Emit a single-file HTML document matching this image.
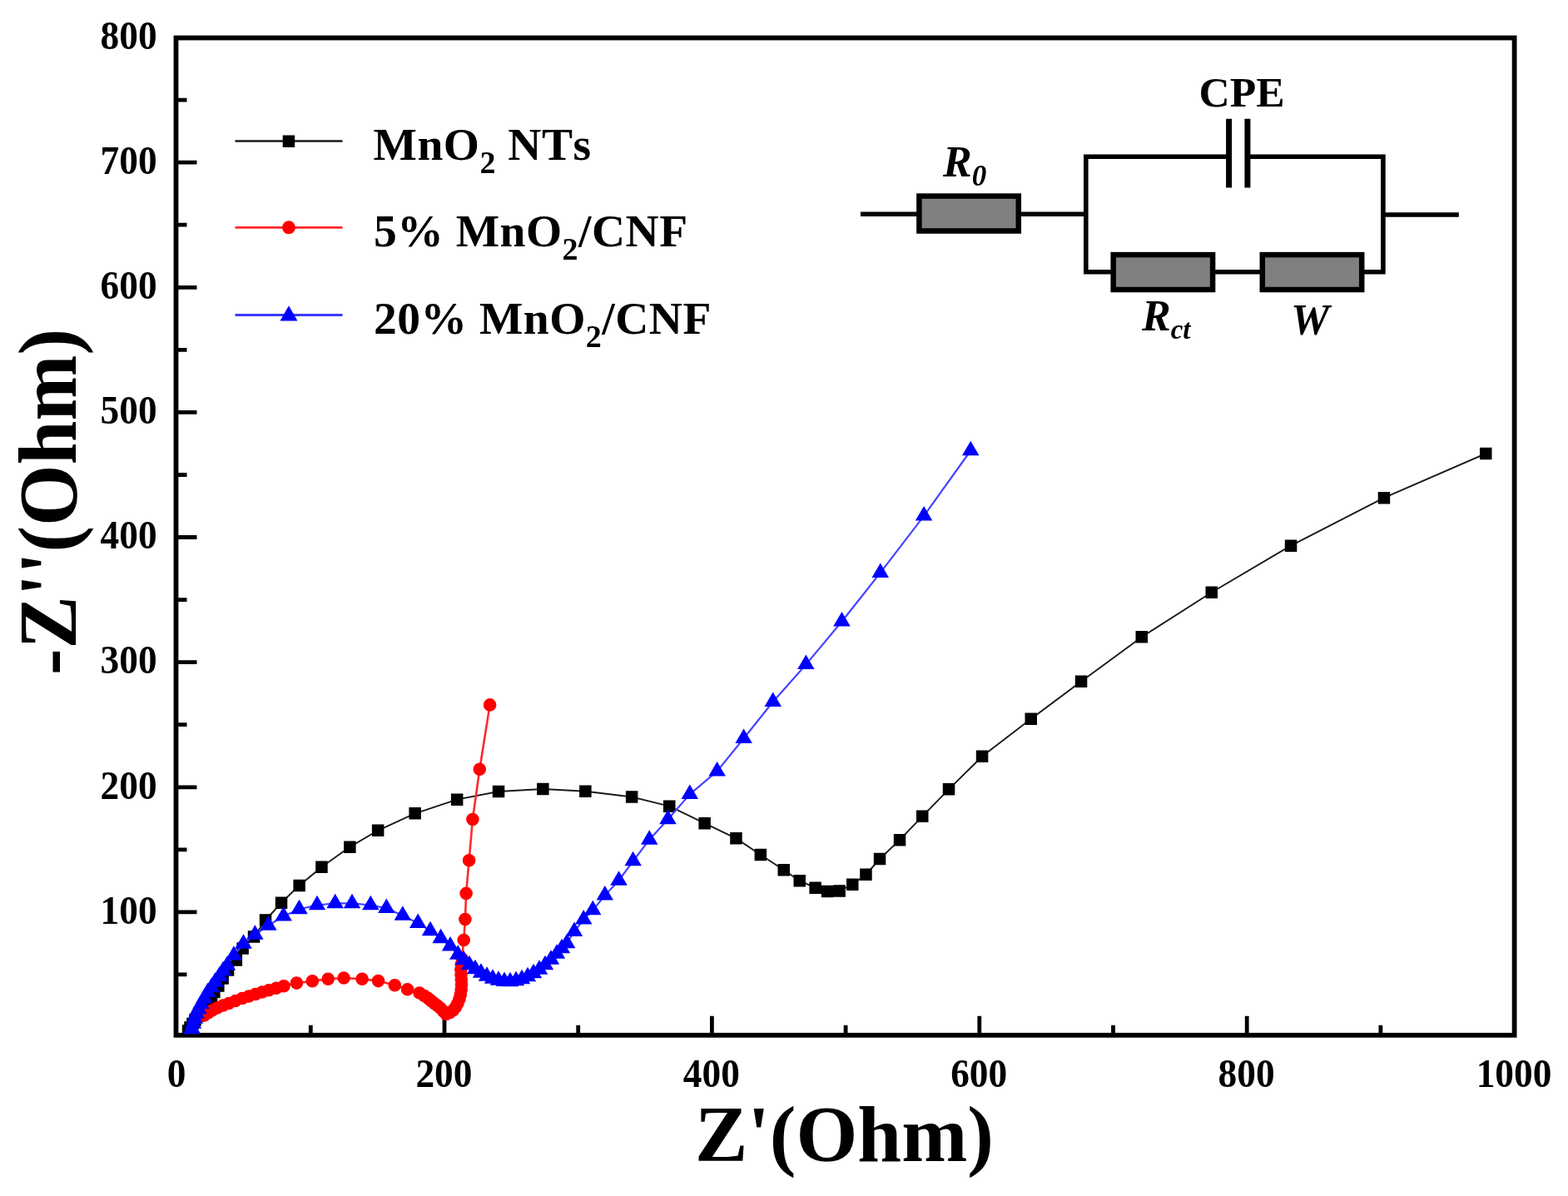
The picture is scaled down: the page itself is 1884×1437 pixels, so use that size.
<!DOCTYPE html>
<html><head><meta charset="utf-8"><title>Nyquist plot</title>
<style>html,body{margin:0;padding:0;background:#fff;}text{font-kerning:none;}svg{display:block;filter:blur(0.6px);}</style>
</head><body>
<svg width="1884" height="1437" viewBox="0 0 1884 1437">
<rect width="1884" height="1437" fill="#fff"/>
<defs><clipPath id="pa"><rect x="212.5" y="45.5" width="1607.1" height="1197"/></clipPath></defs>
<rect x="211.5" y="45.5" width="1608.1" height="1198.3" fill="none" stroke="#000" stroke-width="5.8"/>
<path d="M211.5 1170.9h13M211.5 1095.9h25M211.5 1020.8h13M211.5 945.8h25M211.5 870.7h13M211.5 795.6h25M211.5 720.6h13M211.5 645.5h25M211.5 570.5h13M211.5 495.4h25M211.5 420.3h13M211.5 345.3h25M211.5 270.2h13M211.5 195.2h25M211.5 120.1h13M373.3 1243.8v-12M534 1243.8v-23M694.7 1243.8v-12M855.4 1243.8v-23M1016.1 1243.8v-12M1176.8 1243.8v-23M1337.5 1243.8v-12M1498.2 1243.8v-23M1658.9 1243.8v-12" stroke="#000" stroke-width="4.8" fill="none"/>
<g clip-path="url(#pa)">
<polyline points="226,1238.5 228.5,1234.5 231.5,1230 234.5,1225.5 238,1220.5 241.5,1215.5 245.5,1210 249.5,1204.5 254,1198.5 257.4,1192 262.4,1184.6 267.6,1175.4 274,1165.4 283.9,1153.6 291.6,1139.5 305,1125.6 319,1105.5 338,1084.8 359.6,1063.9 386.5,1041.8 420.4,1017.6 454.1,997.8 498.6,977.4 549.1,960.6 599,951 652.4,948 703.4,950.8 759.1,957.5 804.3,968.7 846.6,989.2 884.5,1007.4 913.9,1027 941.7,1045.3 960.7,1058.2 979.6,1066.7 994.1,1071.1 1008.6,1070.5 1024.2,1062.7 1040.5,1050.8 1057,1032 1081,1009.2 1108.2,980.9 1140,948.4 1180.1,908.7 1238.8,863.8 1299.1,818.8 1371.8,765.4 1455.8,711.7 1551,655.6 1662.9,598.1 1785.2,545" fill="none" stroke="#1a1a1a" stroke-width="1.9" stroke-linejoin="round"/>
<path d="M218.8 1231.2h14.5v14.5h-14.5zM221.2 1227.2h14.5v14.5h-14.5zM224.2 1222.8h14.5v14.5h-14.5zM227.2 1218.2h14.5v14.5h-14.5zM230.8 1213.2h14.5v14.5h-14.5zM234.2 1208.2h14.5v14.5h-14.5zM238.2 1202.8h14.5v14.5h-14.5zM242.2 1197.2h14.5v14.5h-14.5zM246.8 1191.2h14.5v14.5h-14.5zM250.1 1184.8h14.5v14.5h-14.5zM255.1 1177.3h14.5v14.5h-14.5zM260.4 1168.2h14.5v14.5h-14.5zM266.8 1158.2h14.5v14.5h-14.5zM276.6 1146.3h14.5v14.5h-14.5zM284.4 1132.2h14.5v14.5h-14.5zM297.8 1118.3h14.5v14.5h-14.5zM311.8 1098.2h14.5v14.5h-14.5zM330.8 1077.5h14.5v14.5h-14.5zM352.4 1056.7h14.5v14.5h-14.5zM379.2 1034.5h14.5v14.5h-14.5zM413.1 1010.4h14.5v14.5h-14.5zM446.9 990.5h14.5v14.5h-14.5zM491.4 970.1h14.5v14.5h-14.5zM541.9 953.4h14.5v14.5h-14.5zM591.8 943.8h14.5v14.5h-14.5zM645.1 940.8h14.5v14.5h-14.5zM696.1 943.5h14.5v14.5h-14.5zM751.9 950.2h14.5v14.5h-14.5zM797 961.5h14.5v14.5h-14.5zM839.4 982h14.5v14.5h-14.5zM877.2 1000.1h14.5v14.5h-14.5zM906.6 1019.8h14.5v14.5h-14.5zM934.5 1038h14.5v14.5h-14.5zM953.5 1051h14.5v14.5h-14.5zM972.4 1059.5h14.5v14.5h-14.5zM986.9 1063.8h14.5v14.5h-14.5zM1001.4 1063.2h14.5v14.5h-14.5zM1017 1055.5h14.5v14.5h-14.5zM1033.2 1043.5h14.5v14.5h-14.5zM1049.8 1024.8h14.5v14.5h-14.5zM1073.8 1002h14.5v14.5h-14.5zM1101 973.6h14.5v14.5h-14.5zM1132.8 941.1h14.5v14.5h-14.5zM1172.8 901.5h14.5v14.5h-14.5zM1231.5 856.5h14.5v14.5h-14.5zM1291.8 811.5h14.5v14.5h-14.5zM1364.5 758.1h14.5v14.5h-14.5zM1448.5 704.5h14.5v14.5h-14.5zM1543.8 648.4h14.5v14.5h-14.5zM1655.7 590.9h14.5v14.5h-14.5zM1778 537.8h14.5v14.5h-14.5z" fill="#000"/>
<polyline points="245.5,1220 250,1217 255,1214 261,1211 268,1208 275,1205.5 283,1202.5 291,1199.5 299,1197 307,1194.5 315,1192 323,1189.8 332,1187.3 341,1184.8 356.4,1181.1 375.3,1178.7 394.2,1176.3 413.1,1175 435.1,1176.3 454.5,1178.6 474.3,1183.8 489.6,1188.8 504,1193 509.5,1196.2 514.3,1199.4 518,1202.4 521.7,1205.4 525.5,1208.3 529.2,1211.3 532.6,1214.9 536,1218.5 541,1216.5 544.5,1213.8 547.5,1210 550,1205.5 552,1200.5 553.3,1195 554.2,1189 554.5,1183 554.3,1177 554,1171 553.8,1165 554.2,1159 555.2,1152 557.2,1129.5 558.9,1104.6 560.1,1073.4 563.6,1033.7 567.9,984.5 576.3,924.3 588.6,846.9" fill="none" stroke="#ff2a2a" stroke-width="2.6" stroke-linejoin="round"/>
<path d="M237.7 1220a7.8 7.8 0 1 0 15.6 0a7.8 7.8 0 1 0 -15.6 0zM242.2 1217a7.8 7.8 0 1 0 15.6 0a7.8 7.8 0 1 0 -15.6 0zM247.2 1214a7.8 7.8 0 1 0 15.6 0a7.8 7.8 0 1 0 -15.6 0zM253.2 1211a7.8 7.8 0 1 0 15.6 0a7.8 7.8 0 1 0 -15.6 0zM260.2 1208a7.8 7.8 0 1 0 15.6 0a7.8 7.8 0 1 0 -15.6 0zM267.2 1205.5a7.8 7.8 0 1 0 15.6 0a7.8 7.8 0 1 0 -15.6 0zM275.2 1202.5a7.8 7.8 0 1 0 15.6 0a7.8 7.8 0 1 0 -15.6 0zM283.2 1199.5a7.8 7.8 0 1 0 15.6 0a7.8 7.8 0 1 0 -15.6 0zM291.2 1197a7.8 7.8 0 1 0 15.6 0a7.8 7.8 0 1 0 -15.6 0zM299.2 1194.5a7.8 7.8 0 1 0 15.6 0a7.8 7.8 0 1 0 -15.6 0zM307.2 1192a7.8 7.8 0 1 0 15.6 0a7.8 7.8 0 1 0 -15.6 0zM315.2 1189.8a7.8 7.8 0 1 0 15.6 0a7.8 7.8 0 1 0 -15.6 0zM324.2 1187.3a7.8 7.8 0 1 0 15.6 0a7.8 7.8 0 1 0 -15.6 0zM333.2 1184.8a7.8 7.8 0 1 0 15.6 0a7.8 7.8 0 1 0 -15.6 0zM348.6 1181.1a7.8 7.8 0 1 0 15.6 0a7.8 7.8 0 1 0 -15.6 0zM367.5 1178.7a7.8 7.8 0 1 0 15.6 0a7.8 7.8 0 1 0 -15.6 0zM386.4 1176.3a7.8 7.8 0 1 0 15.6 0a7.8 7.8 0 1 0 -15.6 0zM405.3 1175a7.8 7.8 0 1 0 15.6 0a7.8 7.8 0 1 0 -15.6 0zM427.3 1176.3a7.8 7.8 0 1 0 15.6 0a7.8 7.8 0 1 0 -15.6 0zM446.7 1178.6a7.8 7.8 0 1 0 15.6 0a7.8 7.8 0 1 0 -15.6 0zM466.5 1183.8a7.8 7.8 0 1 0 15.6 0a7.8 7.8 0 1 0 -15.6 0zM481.8 1188.8a7.8 7.8 0 1 0 15.6 0a7.8 7.8 0 1 0 -15.6 0zM496.2 1193a7.8 7.8 0 1 0 15.6 0a7.8 7.8 0 1 0 -15.6 0zM501.7 1196.2a7.8 7.8 0 1 0 15.6 0a7.8 7.8 0 1 0 -15.6 0zM506.5 1199.4a7.8 7.8 0 1 0 15.6 0a7.8 7.8 0 1 0 -15.6 0zM510.2 1202.4a7.8 7.8 0 1 0 15.6 0a7.8 7.8 0 1 0 -15.6 0zM513.9 1205.4a7.8 7.8 0 1 0 15.6 0a7.8 7.8 0 1 0 -15.6 0zM517.7 1208.3a7.8 7.8 0 1 0 15.6 0a7.8 7.8 0 1 0 -15.6 0zM521.4 1211.3a7.8 7.8 0 1 0 15.6 0a7.8 7.8 0 1 0 -15.6 0zM524.8 1214.9a7.8 7.8 0 1 0 15.6 0a7.8 7.8 0 1 0 -15.6 0zM528.2 1218.5a7.8 7.8 0 1 0 15.6 0a7.8 7.8 0 1 0 -15.6 0zM533.2 1216.5a7.8 7.8 0 1 0 15.6 0a7.8 7.8 0 1 0 -15.6 0zM536.7 1213.8a7.8 7.8 0 1 0 15.6 0a7.8 7.8 0 1 0 -15.6 0zM539.7 1210a7.8 7.8 0 1 0 15.6 0a7.8 7.8 0 1 0 -15.6 0zM542.2 1205.5a7.8 7.8 0 1 0 15.6 0a7.8 7.8 0 1 0 -15.6 0zM544.2 1200.5a7.8 7.8 0 1 0 15.6 0a7.8 7.8 0 1 0 -15.6 0zM545.5 1195a7.8 7.8 0 1 0 15.6 0a7.8 7.8 0 1 0 -15.6 0zM546.4 1189a7.8 7.8 0 1 0 15.6 0a7.8 7.8 0 1 0 -15.6 0zM546.7 1183a7.8 7.8 0 1 0 15.6 0a7.8 7.8 0 1 0 -15.6 0zM546.5 1177a7.8 7.8 0 1 0 15.6 0a7.8 7.8 0 1 0 -15.6 0zM546.2 1171a7.8 7.8 0 1 0 15.6 0a7.8 7.8 0 1 0 -15.6 0zM546 1165a7.8 7.8 0 1 0 15.6 0a7.8 7.8 0 1 0 -15.6 0zM546.4 1159a7.8 7.8 0 1 0 15.6 0a7.8 7.8 0 1 0 -15.6 0zM547.4 1152a7.8 7.8 0 1 0 15.6 0a7.8 7.8 0 1 0 -15.6 0zM549.4 1129.5a7.8 7.8 0 1 0 15.6 0a7.8 7.8 0 1 0 -15.6 0zM551.1 1104.6a7.8 7.8 0 1 0 15.6 0a7.8 7.8 0 1 0 -15.6 0zM552.3 1073.4a7.8 7.8 0 1 0 15.6 0a7.8 7.8 0 1 0 -15.6 0zM555.8 1033.7a7.8 7.8 0 1 0 15.6 0a7.8 7.8 0 1 0 -15.6 0zM560.1 984.5a7.8 7.8 0 1 0 15.6 0a7.8 7.8 0 1 0 -15.6 0zM568.5 924.3a7.8 7.8 0 1 0 15.6 0a7.8 7.8 0 1 0 -15.6 0zM580.8 846.9a7.8 7.8 0 1 0 15.6 0a7.8 7.8 0 1 0 -15.6 0z" fill="#ff0000"/>
<polyline points="229,1242 230.5,1236 232,1230 234,1224 236,1218 238.5,1212.5 241.5,1206.5 245.3,1199.5 249.5,1192.5 254,1186.5 258.5,1180 263.5,1173 268,1166.5 273,1160 281,1148 292.5,1134 306.4,1123 322.3,1112 340.7,1100.7 359.5,1092.4 381,1087.5 402.7,1085.4 423,1085.4 445.3,1087.5 464.3,1091.2 483.8,1100 502.2,1109.2 517,1118.4 529.6,1127.6 541,1136.7 550.2,1147 557,1153.5 564,1159.5 571,1164.5 578,1169 585,1173 592,1176 599,1178 606,1179.3 613,1179.5 620,1178.5 627,1176.5 634,1173.5 641,1169.5 648,1165 655,1159.5 662,1153 669,1146 675,1139.5 681.1,1133.5 690,1119.2 701.2,1104.8 712.3,1093.6 726.8,1075.8 743.5,1058 760.6,1034.6 780.2,1009 802.5,984.5 828.8,954.4 861.6,926.6 893.6,887.3 928.7,843.3 968.4,798.4 1011.5,746.8 1057.8,688.1 1110.1,619.9 1166.2,541.5" fill="none" stroke="#4444ff" stroke-width="2.2" stroke-linejoin="round"/>
<path d="M229 1230.2L239.2 1247.8L218.8 1247.8zM230.5 1224.2L240.8 1241.8L220.2 1241.8zM232 1218.2L242.2 1235.8L221.8 1235.8zM234 1212.2L244.2 1229.8L223.8 1229.8zM236 1206.2L246.2 1223.8L225.8 1223.8zM238.5 1200.8L248.8 1218.2L228.2 1218.2zM241.5 1194.8L251.8 1212.2L231.2 1212.2zM245.3 1187.8L255.6 1205.2L235.1 1205.2zM249.5 1180.8L259.8 1198.2L239.2 1198.2zM254 1174.8L264.2 1192.2L243.8 1192.2zM258.5 1168.2L268.8 1185.8L248.2 1185.8zM263.5 1161.2L273.8 1178.8L253.2 1178.8zM268 1154.8L278.2 1172.2L257.8 1172.2zM273 1148.2L283.2 1165.8L262.8 1165.8zM281 1136.2L291.2 1153.8L270.8 1153.8zM292.5 1122.2L302.8 1139.8L282.2 1139.8zM306.4 1111.2L316.6 1128.8L296.1 1128.8zM322.3 1100.2L332.6 1117.8L312.1 1117.8zM340.7 1089L350.9 1106.5L330.4 1106.5zM359.5 1080.7L369.8 1098.2L349.2 1098.2zM381 1075.8L391.2 1093.2L370.8 1093.2zM402.7 1073.7L412.9 1091.2L392.4 1091.2zM423 1073.7L433.2 1091.2L412.8 1091.2zM445.3 1075.8L455.6 1093.2L435.1 1093.2zM464.3 1079.5L474.6 1097L454.1 1097zM483.8 1088.2L494.1 1105.8L473.6 1105.8zM502.2 1097.5L512.5 1115L491.9 1115zM517 1106.7L527.2 1124.2L506.8 1124.2zM529.6 1115.8L539.9 1133.3L519.4 1133.3zM541 1125L551.2 1142.5L530.8 1142.5zM550.2 1135.2L560.5 1152.8L540 1152.8zM557 1141.8L567.2 1159.2L546.8 1159.2zM564 1147.8L574.2 1165.2L553.8 1165.2zM571 1152.8L581.2 1170.2L560.8 1170.2zM578 1157.2L588.2 1174.8L567.8 1174.8zM585 1161.2L595.2 1178.8L574.8 1178.8zM592 1164.2L602.2 1181.8L581.8 1181.8zM599 1166.2L609.2 1183.8L588.8 1183.8zM606 1167.5L616.2 1185L595.8 1185zM613 1167.8L623.2 1185.2L602.8 1185.2zM620 1166.8L630.2 1184.2L609.8 1184.2zM627 1164.8L637.2 1182.2L616.8 1182.2zM634 1161.8L644.2 1179.2L623.8 1179.2zM641 1157.8L651.2 1175.2L630.8 1175.2zM648 1153.2L658.2 1170.8L637.8 1170.8zM655 1147.8L665.2 1165.2L644.8 1165.2zM662 1141.2L672.2 1158.8L651.8 1158.8zM669 1134.2L679.2 1151.8L658.8 1151.8zM675 1127.8L685.2 1145.2L664.8 1145.2zM681.1 1121.8L691.4 1139.2L670.9 1139.2zM690 1107.5L700.2 1125L679.8 1125zM701.2 1093L711.5 1110.5L691 1110.5zM712.3 1081.8L722.5 1099.3L702 1099.3zM726.8 1064L737 1081.5L716.5 1081.5zM743.5 1046.2L753.8 1063.8L733.2 1063.8zM760.6 1022.8L770.9 1040.3L750.4 1040.3zM780.2 997.2L790.5 1014.8L770 1014.8zM802.5 972.8L812.8 990.2L792.2 990.2zM828.8 942.6L839 960.1L818.5 960.1zM861.6 914.9L871.9 932.4L851.4 932.4zM893.6 875.5L903.9 893L883.4 893zM928.7 831.5L939 849L918.5 849zM968.4 786.6L978.6 804.1L958.1 804.1zM1011.5 735L1021.8 752.5L1001.2 752.5zM1057.8 676.4L1068 693.9L1047.5 693.9zM1110.1 608.1L1120.3 625.6L1099.8 625.6zM1166.2 529.8L1176.5 547.2L1156 547.2z" fill="#0000ff"/>
</g>
<g font-family="Liberation Serif, serif" font-weight="bold" font-size="47" fill="#000"><text transform="translate(188.6,1109.7) scale(0.965,1.035)" text-anchor="end">100</text><text transform="translate(188.6,959.6) scale(0.965,1.035)" text-anchor="end">200</text><text transform="translate(188.6,809.4) scale(0.965,1.035)" text-anchor="end">300</text><text transform="translate(188.6,659.3) scale(0.965,1.035)" text-anchor="end">400</text><text transform="translate(188.6,509.2) scale(0.965,1.035)" text-anchor="end">500</text><text transform="translate(188.6,359.1) scale(0.965,1.035)" text-anchor="end">600</text><text transform="translate(188.6,209) scale(0.965,1.035)" text-anchor="end">700</text><text transform="translate(188.6,58.8) scale(0.965,1.035)" text-anchor="end">800</text><text transform="translate(212,1306.2) scale(0.965,1.035)" text-anchor="middle">0</text><text transform="translate(533.4,1306.2) scale(0.965,1.035)" text-anchor="middle">200</text><text transform="translate(854.8,1306.2) scale(0.965,1.035)" text-anchor="middle">400</text><text transform="translate(1176.2,1306.2) scale(0.965,1.035)" text-anchor="middle">600</text><text transform="translate(1497.6,1306.2) scale(0.965,1.035)" text-anchor="middle">800</text><text transform="translate(1819,1306.2) scale(0.965,1.035)" text-anchor="middle">1000</text></g>
<text x="1014.5" y="1394.7" text-anchor="middle" font-family="Liberation Serif, serif" font-weight="bold" font-size="95" transform="translate(0,0)">Z'(Ohm)</text>
<text transform="translate(90.5,603) rotate(-90) scale(1,1.043)" x="0" y="0" text-anchor="middle" font-family="Liberation Serif, serif" font-weight="bold" font-size="94.8">-Z''(Ohm)</text>
<line x1="282.5" y1="169.5" x2="411.5" y2="169.5" stroke="#1a1a1a" stroke-width="2.4"/><rect x="339.7" y="162.5" width="14.5" height="14.5" fill="#000"/><line x1="282.5" y1="273.3" x2="411.5" y2="273.3" stroke="#ff2a2a" stroke-width="2.8"/><circle cx="347" cy="273.3" r="8" fill="#f00"/><line x1="282.5" y1="378.5" x2="411.5" y2="378.5" stroke="#3a3aff" stroke-width="2.8"/><path d="M347 367.2L357.5 385.5H336.5z" fill="#00f"/>
<text x="448.5" y="192" font-family="Liberation Serif, serif" font-weight="bold" font-size="55.5" letter-spacing="0.5">MnO<tspan font-size="38" dy="16">2</tspan><tspan dy="-16"> NTs</tspan></text>
<text x="449" y="295.7" font-family="Liberation Serif, serif" font-weight="bold" font-size="55.5" letter-spacing="0.5">5% MnO<tspan font-size="38" dy="16">2</tspan><tspan dy="-16">/CNF</tspan></text>
<text x="449" y="400.5" font-family="Liberation Serif, serif" font-weight="bold" font-size="55.5" letter-spacing="0.5">20% MnO<tspan font-size="38" dy="16">2</tspan><tspan dy="-16">/CNF</tspan></text>
<g stroke="#000" stroke-width="5.6" fill="none"><path d="M1034 257.2H1104.5M1223.8 257.2H1304.8M1476.6 188.3H1304.8V326.8H1337.5M1457 326.8H1516.5M1636 326.8H1661.9V188.3H1498.9M1661.9 258H1752.8" stroke-linejoin="miter" stroke-linecap="butt"/></g><g stroke="#000" stroke-width="6.5" fill="#808080"><rect x="1104.4" y="235.6" width="119.4" height="41.9"/><rect x="1337.7" y="306.1" width="119.4" height="41.9"/><rect x="1516.8" y="306.1" width="119.4" height="41.9"/></g><path d="M1476.6 142.8V225.6M1498.9 142.8V225.6" stroke="#000" stroke-width="7"/><text x="1440.5" y="128.3" font-family="Liberation Serif, serif" font-weight="bold" font-size="51.5">CPE</text><text x="1133" y="212.4" font-family="Liberation Serif, serif" font-weight="bold" font-style="italic" font-size="52">R<tspan font-size="35" dy="11">0</tspan></text><text x="1372" y="396.5" font-family="Liberation Serif, serif" font-weight="bold" font-style="italic" font-size="52">R<tspan font-size="33" dy="10.5">ct</tspan></text><text x="1551" y="402" font-family="Liberation Serif, serif" font-weight="bold" font-style="italic" font-size="52">W</text>
</svg>
</body></html>
